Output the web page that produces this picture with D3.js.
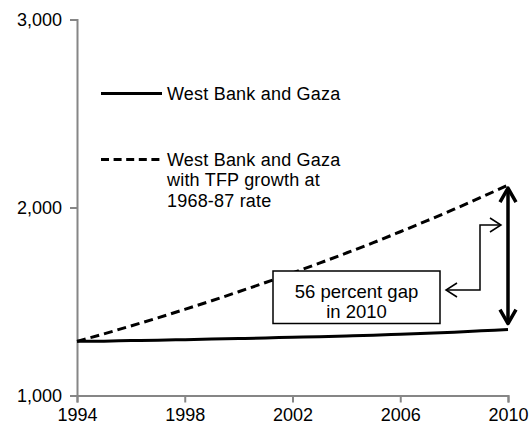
<!DOCTYPE html>
<html><head><meta charset="utf-8">
<script src="https://cdn.jsdelivr.net/npm/d3@7"></script>
<style>
body{margin:0;background:#fff;}
text{font-family:"Liberation Sans",Arial,sans-serif;fill:#000;}
</style></head>
<body><svg id="c" width="530" height="431"></svg>
<script>
const years = [1994,1995,1996,1997,1998,1999,2000,2001,2002,2003,2004,2005,2006,2007,2008,2009,2010];
const actual = [1288,1289,1292,1294,1297,1300,1303,1306,1310,1313,1317,1321,1326,1331,1337,1344,1351];
const counterfactual = [1288,1328,1370,1413,1458,1504,1552,1601,1652,1704,1758,1813,1871,1930,1991,2054,2119];
const xTicks = [1994,1998,2002,2006,2010];
const yTicks = [1000,2000,3000];
const legendLabels = ["West Bank and Gaza", ["West Bank and Gaza","with TFP growth at","1968-87 rate"]];
const gapLabel = ["56 percent gap","in 2010"];

const svg = d3.select("#c");
const x = d3.scaleLinear().domain([1994,2010]).range([77,508]);
const y = d3.scaleLinear().domain([1000,3000]).range([395.5,19.5]);
const axisColor = "#868686";
const fs = "18px";

// axes
const gx = svg.append("g").attr("transform","translate(0,"+y(1000)+")")
  .call(d3.axisBottom(x).tickValues(xTicks).tickFormat(d3.format("d")).tickSize(7).tickPadding(3));
const gy = svg.append("g").attr("transform","translate("+x(1994)+",0)")
  .call(d3.axisLeft(y).tickValues(yTicks).tickFormat(d3.format(",")).tickSize(7).tickPadding(8));
[gx,gy].forEach(g=>{
  g.select(".domain").attr("stroke",axisColor).attr("stroke-width",2);
  g.selectAll(".tick line").attr("stroke",axisColor).attr("stroke-width",2);
  g.selectAll(".tick text").attr("font-size",fs).attr("font-family","Liberation Sans, Arial, sans-serif").attr("fill","#000");
});
gx.selectAll(".tick text").attr("dy","0.85em");

const line = d3.line().x((d,i)=>x(years[i])).y(d=>y(d)).curve(d3.curveMonotoneX);
svg.append("path").datum(counterfactual).attr("d",line).attr("fill","none")
  .attr("stroke","#000").attr("stroke-width",3).attr("stroke-dasharray","9,5");
svg.append("path").datum(actual).attr("d",line).attr("fill","none")
  .attr("stroke","#000").attr("stroke-width",3);

// legend
svg.append("line").attr("x1",101).attr("x2",162).attr("y1",93.5).attr("y2",93.5).attr("stroke","#000").attr("stroke-width",3);
svg.append("text").attr("x",167).attr("y",99.5).attr("font-size",fs).attr("letter-spacing","0.2px").text(legendLabels[0]);
svg.append("line").attr("x1",101).attr("x2",162).attr("y1",159.5).attr("y2",159.5).attr("stroke","#000").attr("stroke-width",3).attr("stroke-dasharray","8,4.6");
const t2 = svg.append("text").attr("x",167).attr("y",165.5).attr("font-size",fs).attr("letter-spacing","0.2px");
legendLabels[1].forEach((s,i)=>t2.append("tspan").attr("x",167).attr("dy",i?20.7:0).text(s));

// gap box
svg.append("rect").attr("x",273).attr("y",271).attr("width",167).attr("height",52.5).attr("fill","#fff").attr("stroke","#000").attr("stroke-width",1.5);
const t3 = svg.append("text").attr("x",356.5).attr("y",297.5).attr("font-size","18.5px").attr("text-anchor","middle");
gapLabel.forEach((s,i)=>t3.append("tspan").attr("x",356.5).attr("dy",i?20:0).text(s));

// elbow arrow
const ax = x(2010);
svg.append("path").attr("d","M446,290 H480 V225 H501").attr("fill","none").attr("stroke","#000").attr("stroke-width",1.5);
svg.append("path").attr("d","M457,283 L446,290 L457,297").attr("fill","none").attr("stroke","#000").attr("stroke-width",1.5);
svg.append("path").attr("d","M490,218 L501,225 L490,232").attr("fill","none").attr("stroke","#000").attr("stroke-width",1.5);

// double arrow
const yTop = y(counterfactual[counterfactual.length-1]) + 3;
const yBot = y(actual[actual.length-1]) - 6;
svg.append("line").attr("x1",ax).attr("x2",ax).attr("y1",yTop).attr("y2",yBot).attr("stroke","#000").attr("stroke-width",3.5);
svg.append("path").attr("d",`M${ax-8},${yTop+14} L${ax},${yTop} L${ax+8},${yTop+14}`).attr("fill","none").attr("stroke","#000").attr("stroke-width",3.5).attr("stroke-linejoin","round");
svg.append("path").attr("d",`M${ax-8},${yBot-14} L${ax},${yBot} L${ax+8},${yBot-14}`).attr("fill","none").attr("stroke","#000").attr("stroke-width",3.5).attr("stroke-linejoin","round");
</script></body></html>
